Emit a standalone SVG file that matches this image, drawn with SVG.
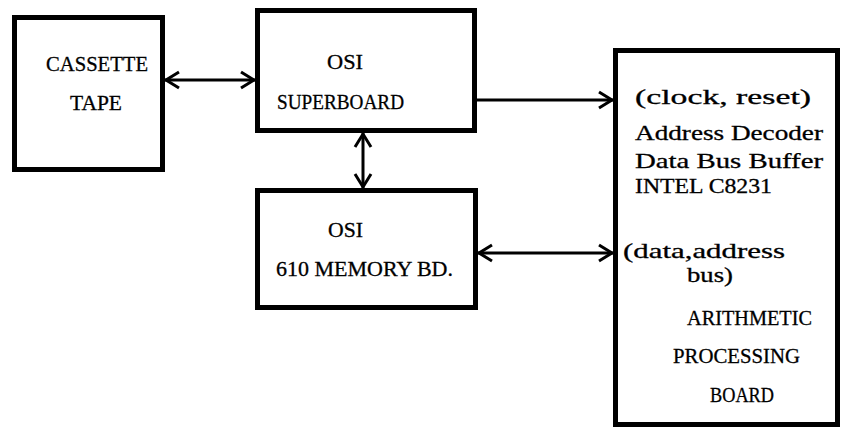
<svg xmlns="http://www.w3.org/2000/svg" width="842" height="429" viewBox="0 0 842 429">
<style>
.box{fill:#fff;stroke:#000;stroke-width:5}
.t{font-family:"Liberation Serif","Times New Roman",serif;font-size:21px;fill:#000;stroke:#000;stroke-width:0.3}
.c{stroke:#000;stroke-width:3;fill:none}
</style>
<defs>
<marker id="ah" viewBox="-16 -10 18 20" refX="0" refY="0" markerWidth="18" markerHeight="20" markerUnits="userSpaceOnUse" orient="auto-start-reverse">
<path d="M-14,-8 L-1,0 L-14,8" fill="none" stroke="#000" stroke-width="3"/>
</marker>
</defs>
<rect width="842" height="429" fill="#fff"/>
<g id="cassette">
<rect class="box" x="14.5" y="17.5" width="148" height="152"/>
<text class="t" x="46" y="71" textLength="102" lengthAdjust="spacingAndGlyphs">CASSETTE</text>
<text class="t" x="70" y="110" textLength="52" lengthAdjust="spacingAndGlyphs">TAPE</text>
</g>
<g id="superboard">
<rect class="box" x="257.5" y="10.5" width="217" height="120"/>
<text class="t" x="327" y="69" textLength="36" lengthAdjust="spacingAndGlyphs">OSI</text>
<text class="t" x="277" y="109" textLength="127" lengthAdjust="spacingAndGlyphs">SUPERBOARD</text>
</g>
<g id="memory">
<rect class="box" x="257.5" y="190.5" width="218" height="117"/>
<text class="t" x="328" y="237" textLength="35" lengthAdjust="spacingAndGlyphs">OSI</text>
<text class="t" x="276" y="276" textLength="177" lengthAdjust="spacingAndGlyphs">610 MEMORY BD.</text>
</g>
<g id="apb">
<rect class="box" x="615.5" y="50.5" width="222" height="374"/>
<text class="t" x="635" y="104" textLength="176" lengthAdjust="spacingAndGlyphs">(clock, reset)</text>
<text class="t" x="635" y="140" textLength="188" lengthAdjust="spacingAndGlyphs">Address Decoder</text>
<text class="t" x="635" y="168" textLength="188" lengthAdjust="spacingAndGlyphs">Data Bus Buffer</text>
<text class="t" x="635" y="193" textLength="137" lengthAdjust="spacingAndGlyphs">INTEL C8231</text>
<text class="t" x="623" y="258" textLength="162" lengthAdjust="spacingAndGlyphs">(data,address</text>
<text class="t" x="687" y="282" textLength="46" lengthAdjust="spacingAndGlyphs">bus)</text>
<text class="t" x="687" y="325" textLength="125" lengthAdjust="spacingAndGlyphs">ARITHMETIC</text>
<text class="t" x="673" y="363" textLength="127" lengthAdjust="spacingAndGlyphs">PROCESSING</text>
<text class="t" x="710" y="402" textLength="64" lengthAdjust="spacingAndGlyphs">BOARD</text>
</g>
<g id="connectors">
<line class="c" x1="165" y1="80" x2="255" y2="80" marker-start="url(#ah)" marker-end="url(#ah)"/>
<line class="c" x1="363" y1="133" x2="363" y2="188" marker-start="url(#ah)" marker-end="url(#ah)"/>
<line class="c" x1="477" y1="100" x2="613" y2="100" marker-end="url(#ah)"/>
<line class="c" x1="478" y1="253" x2="613" y2="253" marker-start="url(#ah)" marker-end="url(#ah)"/>
</g>
</svg>
